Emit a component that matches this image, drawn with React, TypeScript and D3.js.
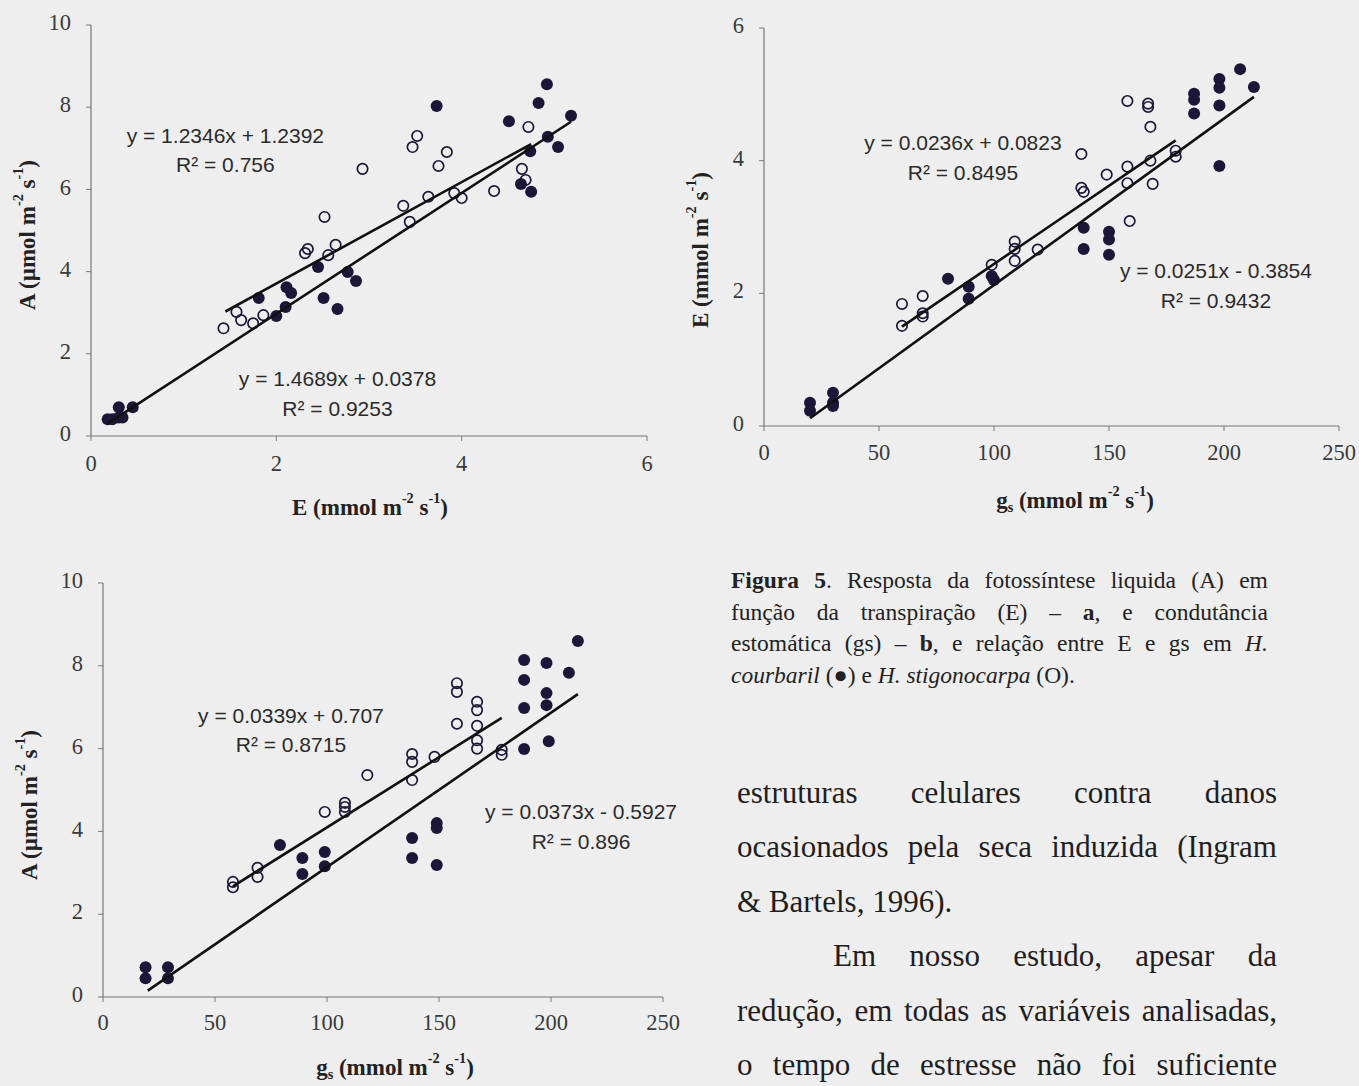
import React from "react";
import * as d3 from "d3";

// ---- painel a: A x E ----
const aFilledE = [0.18, 0.23, 0.3, 0.34, 0.3, 0.45, 1.81, 2.0, 2.1, 2.11, 2.16, 2.45, 2.51, 2.66, 2.77, 2.86, 3.73, 4.51, 4.64, 4.74, 4.75, 4.83, 4.92, 4.93, 5.04, 5.18];
const aFilledA = [0.41, 0.41, 0.45, 0.45, 0.7, 0.7, 3.36, 2.92, 3.14, 3.62, 3.48, 4.11, 3.36, 3.09, 3.99, 3.77, 8.03, 7.66, 6.13, 6.93, 5.94, 8.1, 8.56, 7.28, 7.03, 7.79];
const aOpenE = [1.43, 1.57, 1.62, 1.75, 1.86, 2.31, 2.34, 2.56, 2.64, 2.52, 2.93, 3.37, 3.44, 3.47, 3.52, 3.64, 3.75, 3.84, 3.92, 4.0, 4.35, 4.65, 4.69, 4.72];
const aOpenA = [2.62, 3.02, 2.82, 2.74, 2.94, 4.45, 4.55, 4.4, 4.65, 5.33, 6.5, 5.6, 5.21, 7.03, 7.3, 5.82, 6.57, 6.91, 5.91, 5.79, 5.96, 6.5, 6.23, 7.52];

// ---- painel b: E x gs ----
const bFilledGs = [20, 20, 30, 30, 30, 80, 89, 89, 99, 100, 139, 139, 150, 150, 150, 187, 187, 187, 198, 198, 198, 198, 207, 213];
const bFilledE = [0.35, 0.23, 0.5, 0.35, 0.3, 2.22, 2.1, 1.92, 2.26, 2.2, 2.99, 2.67, 2.93, 2.81, 2.58, 5.01, 4.92, 4.71, 5.23, 5.1, 4.83, 3.92, 5.38, 5.11];
const bOpenGs = [60, 60, 69, 69, 69, 99, 109, 109, 109, 119, 138, 138, 139, 149, 158, 158, 158, 159, 167, 167, 168, 168, 169, 179, 179];
const bOpenE = [1.84, 1.51, 1.96, 1.7, 1.65, 2.43, 2.78, 2.67, 2.49, 2.66, 4.1, 3.59, 3.53, 3.79, 4.9, 3.91, 3.66, 3.09, 4.86, 4.81, 4.51, 4.0, 3.65, 4.15, 4.06];

// ---- painel c: A x gs ----
const cFilledGs = [19, 19, 29, 29, 79, 89, 89, 99, 99, 138, 138, 149, 149, 149, 188, 188, 188, 188, 198, 198, 198, 199, 208, 212];
const cFilledA = [0.72, 0.45, 0.72, 0.45, 3.67, 3.36, 2.97, 3.5, 3.16, 3.84, 3.36, 4.2, 4.08, 3.19, 8.14, 7.66, 6.98, 5.99, 8.07, 7.34, 7.05, 6.18, 7.83, 8.6];
const cOpenGs = [58, 58, 69, 69, 99, 108, 108, 108, 118, 138, 138, 138, 148, 158, 158, 158, 167, 167, 167, 167, 167, 178, 178];
const cOpenA = [2.78, 2.65, 3.12, 2.9, 4.47, 4.69, 4.59, 4.47, 5.36, 5.87, 5.68, 5.24, 5.8, 7.58, 7.37, 6.6, 7.13, 6.93, 6.55, 6.2, 6.0, 5.97, 5.85];

// regressões: [inclinação, intercepto, x inicial, x final]
const aFitOpen = [1.2346, 1.2392, 1.45, 4.75];
const aFitFilled = [1.4689, 0.0378, 0.18, 5.18];
const bFitOpen = [0.0236, 0.0823, 60, 179];
const bFitFilled = [0.0251, -0.3854, 20, 213];
const cFitOpen = [0.0339, 0.707, 58, 178];
const cFitFilled = [0.0373, -0.5927, 20, 212];

const aEquations = ["y = 1.2346x + 1.2392", "y = 1.4689x + 0.0378"];
const aR2 = ["R² = 0.756", "R² = 0.9253"];
const bEquations = ["y = 0.0236x + 0.0823", "y = 0.0251x - 0.3854"];
const bR2 = ["R² = 0.8495", "R² = 0.9432"];
const cEquations = ["y = 0.0339x + 0.707", "y = 0.0373x - 0.5927"];
const cR2 = ["R² = 0.8715", "R² = 0.896"];

const eTicks = [0, 2, 4, 6];
const aTicks = [0, 2, 4, 6, 8, 10];
const gsTicks = [0, 50, 100, 150, 200, 250];

const serif = "'Liberation Serif', 'Times New Roman', serif";
const sans = "'Liberation Sans', Arial, sans-serif";
const ink = "#1c1638";

type Part = [string, "n" | "sup" | "sub"];

function Rich({ parts, size }: { parts: Part[]; size: number }) {
  let cur = 0;
  return (
    <>
      {parts.map(([t, k], i) => {
        const target = k === "sup" ? -0.42 * size : k === "sub" ? 0.28 * size : 0;
        const dy = target - cur;
        cur = target;
        return (
          <tspan key={i} dy={dy} fontSize={k === "n" ? size : size * 0.62}>
            {t}
          </tspan>
        );
      })}
    </>
  );
}

const eTitle: Part[] = [["E (mmol m", "n"], ["-2", "sup"], [" s", "n"], ["-1", "sup"], [")", "n"]];
const gsTitle: Part[] = [["g", "n"], ["s", "sub"], [" (mmol m", "n"], ["-2", "sup"], [" s", "n"], ["-1", "sup"], [")", "n"]];
const aTitle: Part[] = [["A (µmol m", "n"], ["-2", "sup"], [" s", "n"], ["-1", "sup"], [")", "n"]];

interface PanelProps {
  xDomain: [number, number];
  yDomain: [number, number];
  xRange: [number, number];
  yRange: [number, number];
  xTicks: number[];
  yTicks: number[];
  filled: [number[], number[]];
  open: [number[], number[]];
  fits: number[][];
  eqs: string[];
  r2s: string[];
  labelPos: number[][];
  xTitle: Part[];
  yTitle: Part[];
  xTitlePos: [number, number];
  yTitlePos: [number, number];
  labelGap: number;
}

function Panel(p: PanelProps) {
  const x = d3.scaleLinear().domain(p.xDomain).range(p.xRange);
  const y = d3.scaleLinear().domain(p.yDomain).range(p.yRange);
  const baseY = y(p.yDomain[0]);
  const baseX = x(p.xDomain[0]);
  const line = (f: number[]) =>
    d3
      .line<number>()
      .x((d) => x(d))
      .y((d) => y(f[0] * d + f[1]))([f[2], f[3]]) || "";

  return (
    <g>
      {/* eixos */}
      <line x1={baseX} x2={x(p.xDomain[1])} y1={baseY} y2={baseY} stroke="#777" strokeWidth={1.2} />
      <line x1={baseX} x2={baseX} y1={baseY} y2={y(p.yDomain[1])} stroke="#777" strokeWidth={1.2} />
      {p.xTicks.map((t) => (
        <g key={"x" + t}>
          <line x1={x(t)} x2={x(t)} y1={baseY} y2={baseY + 5} stroke="#777" />
          <text x={x(t)} y={baseY + p.labelGap} textAnchor="middle" dominantBaseline="middle" fontFamily={serif} fontSize={22.5} fill="#3a3a3a">
            {t}
          </text>
        </g>
      ))}
      {p.yTicks.map((t) => (
        <g key={"y" + t}>
          <line x1={baseX - 5} x2={baseX} y1={y(t)} y2={y(t)} stroke="#777" />
          <text x={baseX - 20} y={y(t)} textAnchor="end" dominantBaseline="middle" fontFamily={serif} fontSize={22.5} fill="#3a3a3a">
            {t}
          </text>
        </g>
      ))}

      {/* pontos */}
      {p.open[0].map((v, i) => (
        <circle key={"o" + i} cx={x(v)} cy={y(p.open[1][i])} r={5.2} fill="none" stroke={ink} strokeWidth={1.7} />
      ))}
      {p.filled[0].map((v, i) => (
        <circle key={"f" + i} cx={x(v)} cy={y(p.filled[1][i])} r={6} fill={ink} />
      ))}

      {/* linhas de tendência */}
      {p.fits.map((f, i) => (
        <path key={"l" + i} d={line(f)} stroke="#111" strokeWidth={2.6} fill="none" />
      ))}

      {/* equações */}
      {p.eqs.map((eq, i) => (
        <g key={"e" + i} fontFamily={sans} fontSize={21} fill="#2a2a2a" textAnchor="middle">
          <text x={x(p.labelPos[i][0])} y={y(p.labelPos[i][1])} dominantBaseline="middle">
            {eq}
          </text>
          <text x={x(p.labelPos[i][0])} y={y(p.labelPos[i][2])} dominantBaseline="middle">
            {p.r2s[i]}
          </text>
        </g>
      ))}

      {/* títulos */}
      <text x={p.xTitlePos[0]} y={p.xTitlePos[1]} textAnchor="middle" dominantBaseline="middle" fontFamily={serif} fontWeight="bold" fontSize={23} fill="#222">
        <Rich parts={p.xTitle} size={23} />
      </text>
      <text
        transform={`translate(${p.yTitlePos[0]},${p.yTitlePos[1]}) rotate(-90)`}
        textAnchor="middle"
        dominantBaseline="middle"
        fontFamily={serif}
        fontWeight="bold"
        fontSize={23}
        fill="#222"
      >
        <Rich parts={p.yTitle} size={23} />
      </text>
    </g>
  );
}

const captionLines: React.ReactNode[][] = [
  [<b>Figura</b>, <span><b>5</b>.</span>, "Resposta", "da", "fotossíntese", "liquida", "(A)", "em"],
  ["função", "da", "transpiração", "(E)", "–", <span><b>a</b>,</span>, "e", "condutância"],
  ["estomática", "(gs)", "–", <span><b>b</b>,</span>, "e", "relação", "entre", "E", "e", "gs", "em", <i>H.</i>],
];

const bodyLines: string[] = [
  "estruturas celulares contra danos",
  "ocasionados pela seca induzida (Ingram",
  "& Bartels, 1996).",
  "Em nosso estudo, apesar da",
  "redução, em todas as variáveis analisadas,",
  "o tempo de estresse não foi suficiente",
];

const rowJustify: React.CSSProperties = { display: "flex", justifyContent: "space-between", whiteSpace: "nowrap" };

export default function App() {
  return (
    <svg width={1359} height={1086} style={{ position: "absolute", left: 0, top: 0, background: "#eeeeee" }}>
      <rect width={1359} height={1086} fill="#eeeeee" />
      <Panel
        xDomain={[0, 6]}
        yDomain={[0, 10]}
        xRange={[91, 647]}
        yRange={[436, 25]}
        xTicks={eTicks}
        yTicks={aTicks}
        filled={[aFilledE, aFilledA]}
        open={[aOpenE, aOpenA]}
        fits={[aFitOpen, aFitFilled]}
        eqs={aEquations}
        r2s={aR2}
        labelPos={[
          [1.45, 7.27, 6.57],
          [2.66, 1.34, 0.63],
        ]}
        xTitle={eTitle}
        yTitle={aTitle}
        xTitlePos={[370, 510]}
        yTitlePos={[30, 235]}
        labelGap={30}
      />
      <Panel
        xDomain={[0, 250]}
        yDomain={[0, 6]}
        xRange={[764, 1339]}
        yRange={[426, 28]}
        xTicks={gsTicks}
        yTicks={eTicks}
        filled={[bFilledGs, bFilledE]}
        open={[bOpenGs, bOpenE]}
        fits={[bFitOpen, bFitFilled]}
        eqs={bEquations}
        r2s={bR2}
        labelPos={[
          [86.5, 4.24, 3.79],
          [196.5, 2.32, 1.86],
        ]}
        xTitle={gsTitle}
        yTitle={eTitle}
        xTitlePos={[1075, 503]}
        yTitlePos={[703, 250]}
        labelGap={29}
      />
      <Panel
        xDomain={[0, 250]}
        yDomain={[0, 10]}
        xRange={[103, 663]}
        yRange={[997, 583]}
        xTicks={gsTicks}
        yTicks={aTicks}
        filled={[cFilledGs, cFilledA]}
        open={[cOpenGs, cOpenA]}
        fits={[cFitOpen, cFitFilled]}
        eqs={cEquations}
        r2s={cR2}
        labelPos={[
          [83.9, 6.76, 6.06],
          [213.4, 4.44, 3.72],
        ]}
        xTitle={gsTitle}
        yTitle={aTitle}
        xTitlePos={[395, 1070]}
        yTitlePos={[32, 805]}
        labelGap={28}
      />

      {/* legenda da figura */}
      <foreignObject x={731} y={565} width={540} height={140}>
        <div style={{ fontFamily: serif, fontSize: 23.5, lineHeight: "31.5px", color: "#222", width: 537 }}>
          {captionLines.map((words, i) => (
            <div key={i} style={rowJustify}>
              {words.map((w, j) => (
                <span key={j}>{w}</span>
              ))}
            </div>
          ))}
          <div style={{ whiteSpace: "nowrap" }}>
            <i>courbaril</i> (●) e <i>H. stigonocarpa</i> (O).
          </div>
        </div>
      </foreignObject>

      {/* texto do corpo */}
      <foreignObject x={737} y={766} width={545} height={318}>
        <div style={{ fontFamily: serif, fontSize: 31, lineHeight: "54.4px", color: "#1e1e1e", width: 540 }}>
          {bodyLines.map((ln, i) =>
            i === 2 ? (
              <div key={i} style={{ whiteSpace: "nowrap" }}>
                {ln}
              </div>
            ) : (
              <div key={i} style={{ ...rowJustify, paddingLeft: i === 3 ? 96 : 0 }}>
                {ln.split(" ").map((w, j) => (
                  <span key={j}>{w}</span>
                ))}
              </div>
            )
          )}
        </div>
      </foreignObject>
    </svg>
  );
}
